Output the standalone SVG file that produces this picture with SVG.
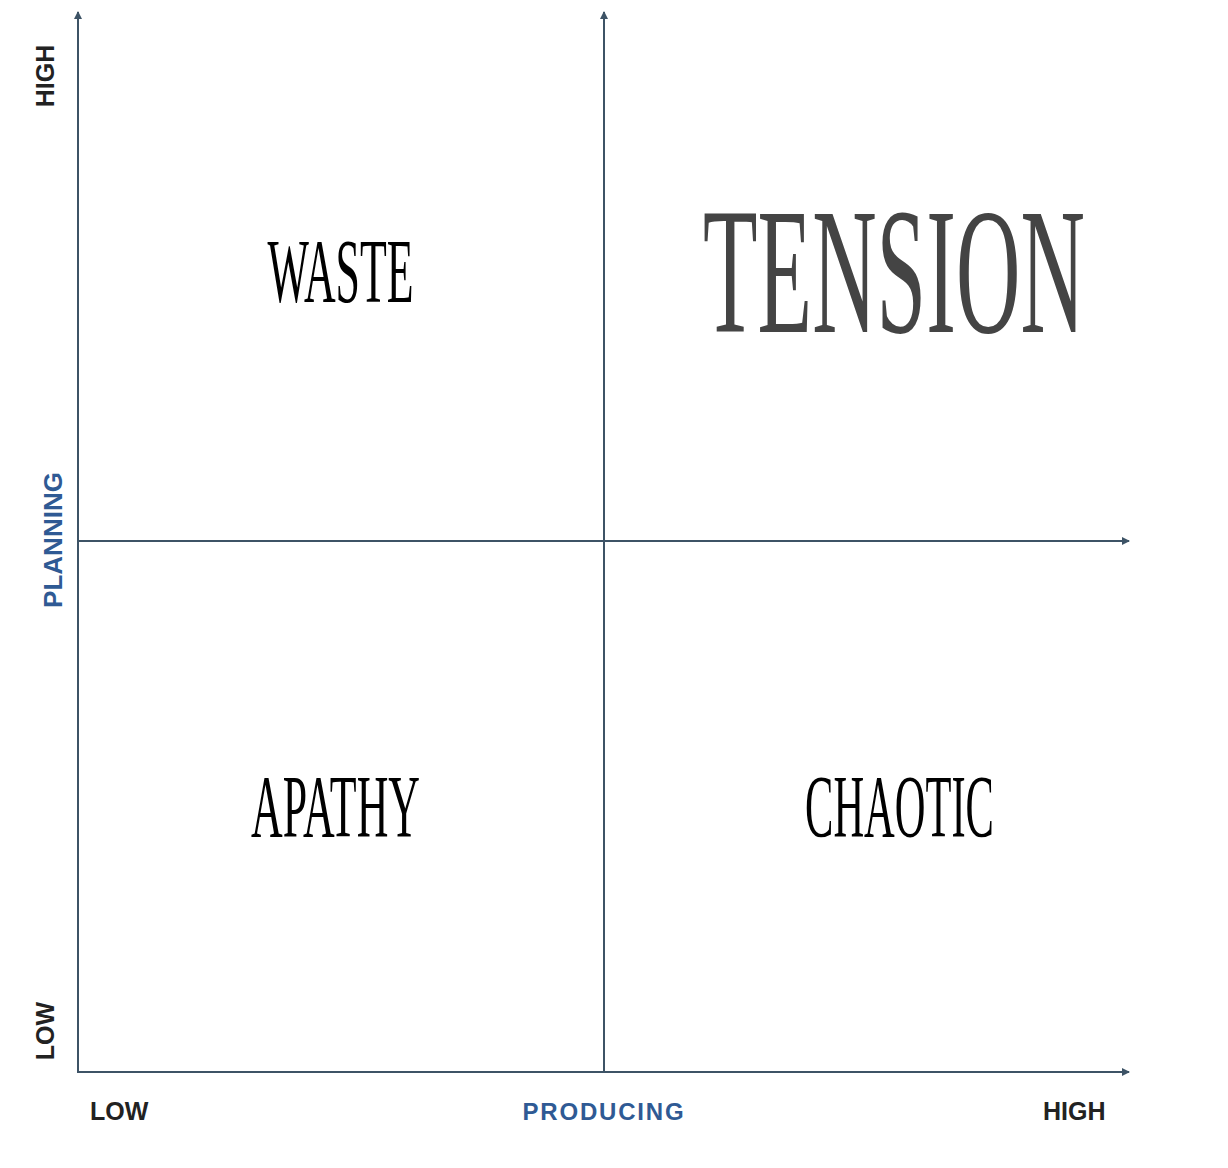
<svg xmlns="http://www.w3.org/2000/svg" width="1228" height="1168" viewBox="0 0 1228 1168">
<defs>
<style>
.axis{stroke:#3d5366;stroke-width:2;fill:none}
.lbl{font-family:"Liberation Sans",Arial,sans-serif;font-weight:bold;fill:#222222}
.ttl{font-family:"Liberation Sans",Arial,sans-serif;font-weight:bold;fill:#2f5a94}
.quad{font-family:"Liberation Serif","Times New Roman",serif;fill:#000000;text-anchor:middle}
</style>
<marker id="arr" viewBox="0 0 8 8" refX="7" refY="4" markerWidth="8" markerHeight="8" markerUnits="userSpaceOnUse" orient="auto">
<path d="M0,0 L8,4 L0,8 Z" fill="#3d5366"/>
</marker>
</defs>
<rect width="1228" height="1168" fill="#ffffff"/>
<g id="connectors">
<line class="axis" x1="78" y1="1072" x2="78" y2="12" marker-end="url(#arr)"/>
<line class="axis" x1="604" y1="1072" x2="604" y2="12" marker-end="url(#arr)"/>
<line class="axis" x1="78" y1="541" x2="1129" y2="541" marker-end="url(#arr)"/>
<line class="axis" x1="77" y1="1072" x2="1129" y2="1072" marker-end="url(#arr)"/>
</g>
<g id="axis-labels">
<text class="lbl" font-size="25" text-anchor="middle" transform="translate(54,76) rotate(-90)">HIGH</text>
<text class="ttl" font-size="26" text-anchor="middle" transform="translate(62,540) rotate(-90)">PLANNING</text>
<text class="lbl" font-size="25" text-anchor="middle" transform="translate(54,1031) rotate(-90)">LOW</text>
<text class="lbl" font-size="25" x="90" y="1120">LOW</text>
<text class="ttl" font-size="24" x="604" y="1120" text-anchor="middle" letter-spacing="1.8">PRODUCING</text>
<text class="lbl" font-size="25" x="1043" y="1120">HIGH</text>
</g>
<g id="waste">
<text class="quad" font-size="92" transform="translate(340.5,302) scale(0.477,1)">WASTE</text>
</g>
<g id="tension">
<text class="quad" font-size="180" style="fill:#444444" transform="translate(894,332) scale(0.496,1)">TENSION</text>
</g>
<g id="apathy">
<text class="quad" font-size="89" transform="translate(335.5,836) scale(0.493,1)">APATHY</text>
</g>
<g id="chaotic">
<text class="quad" font-size="88" transform="translate(899.5,836) scale(0.483,1)">CHAOTIC</text>
</g>
</svg>
